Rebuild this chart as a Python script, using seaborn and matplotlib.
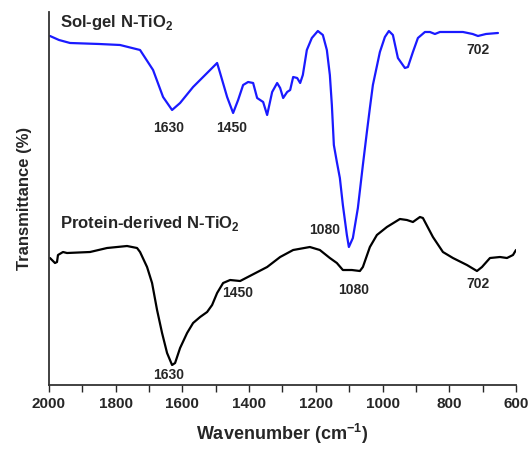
import seaborn as sns
import matplotlib.pyplot as plt
import pandas as pd

# Sol-gel N-TiO2 spectrum (wavenumber, transmittance a.u.)
solgel_wn = [1997, 1970, 1937, 1850, 1787, 1727, 1688, 1658, 1631, 1607, 1568, 1526, 1496,
             1487, 1466, 1448, 1433, 1418, 1403, 1388, 1376, 1367, 1358, 1346, 1331, 1316,
             1307, 1298, 1286, 1277, 1268, 1256, 1247, 1239, 1227, 1212, 1194, 1179, 1167,
             1158, 1152, 1146, 1137, 1128, 1119, 1107, 1101, 1089, 1074, 1059, 1047, 1038, 1029,
             1008, 993, 981, 969, 954, 933, 924, 909, 894, 873, 858, 843, 828, 790, 759,
             730, 714, 690, 654]
solgel_t = [364, 360, 357, 356, 355, 350, 330, 303, 290, 297, 313, 327, 337,
            327, 303, 287, 300, 315, 318, 317, 302, 300, 298, 285, 308, 317,
            312, 302, 308, 310, 323, 322, 317, 325, 350, 362, 369, 365, 350,
            325, 295, 255, 238, 222, 195, 165, 153, 162, 192, 235, 268, 292, 315,
            348, 363, 369, 365, 342, 332, 333, 348, 362, 368, 368, 366, 368, 368, 368,
            366, 364, 366, 367]

# Protein-derived N-TiO2 spectrum
protein_wn = [1997, 1982, 1976, 1973, 1958, 1946, 1877, 1826, 1766, 1736, 1727, 1706, 1691,
              1676, 1661, 1646, 1631, 1622, 1607, 1586, 1568, 1547, 1526, 1511, 1496, 1478,
              1457, 1427, 1346, 1307, 1268, 1218, 1188, 1158, 1137, 1119, 1092, 1068, 1059,
              1038, 1017, 987, 948, 927, 909, 888, 879, 849, 819, 789, 747, 717, 702, 678,
              648, 627, 609, 600]
protein_t = [142, 137, 138, 145, 148, 147, 148, 152, 154, 152, 148, 133, 117,
             90, 67, 47, 35, 37, 52, 67, 77, 83, 88, 95, 107, 117,
             120, 119, 133, 143, 150, 153, 150, 142, 137, 130, 130, 129, 133,
             153, 165, 173, 181, 180, 178, 183, 182, 163, 148, 142, 135, 129, 133, 142,
             143, 142, 145, 150]

# peak labels: (text, x, y)
solgel_peaks = [("1630", 1640, 272), ("1450", 1451, 272), ("1080", 1173, 170), ("702", 714, 350)]
protein_peaks = [("1630", 1640, 25), ("1450", 1435, 107), ("1080", 1086, 110), ("702", 714, 116)]

df_sg = pd.DataFrame({'wn': solgel_wn, 't': solgel_t})
df_pr = pd.DataFrame({'wn': protein_wn, 't': protein_t})

sns.set_style("ticks")
plt.rcParams['font.family'] = ['Liberation Sans', 'DejaVu Sans']
plt.rcParams['font.weight'] = 'bold'
plt.rcParams['mathtext.fontset'] = 'custom'
plt.rcParams['mathtext.rm'] = 'Liberation Sans:bold'
plt.rcParams['mathtext.bf'] = 'Liberation Sans:bold'

fig = plt.figure(figsize=(5.29, 4.49), dpi=100)
ax = fig.add_axes([0.0926, 0.1425, 0.8828, 0.8308])

sns.lineplot(data=df_sg, x='wn', y='t', color='#1a1aff', lw=1.6, ax=ax, sort=False)
sns.lineplot(data=df_pr, x='wn', y='t', color='black', lw=1.6, ax=ax, sort=False)

for txt, x, y in solgel_peaks + protein_peaks:
    ax.text(x, y, txt, ha='center', va='center', fontsize=10, fontweight='bold')

ax.text(1967, 377, r"Sol-gel N-TiO$_\mathbf{2}$", ha='left', va='center', fontsize=12, fontweight='bold')
ax.text(1967, 177, r"Protein-derived N-TiO$_\mathbf{2}$", ha='left', va='center', fontsize=12, fontweight='bold')

ax.set_xlim(2000, 600)
ax.set_ylim(15, 388)
ax.set_xticks(range(2000, 599, -200))
ax.set_xticks(range(1900, 600, -200), minor=True)
ax.set_yticks([])
ax.tick_params(axis='x', which='both', direction='out', length=5, width=1, labelsize=11)
for lab in ax.get_xticklabels():
    lab.set_fontweight('bold')

ax.set_xlabel(r"Wavenumber (cm$^{\mathbf{-1}}$)", fontsize=13, fontweight='bold', labelpad=8)
ax.set_ylabel("Transmittance (%)", fontsize=12, fontweight='bold', labelpad=12)

sns.despine(ax=ax)
for s in ['left', 'bottom']:
    ax.spines[s].set_linewidth(1.3)
    ax.spines[s].set_color('#333333')

fig.savefig('out.png', dpi=100)
